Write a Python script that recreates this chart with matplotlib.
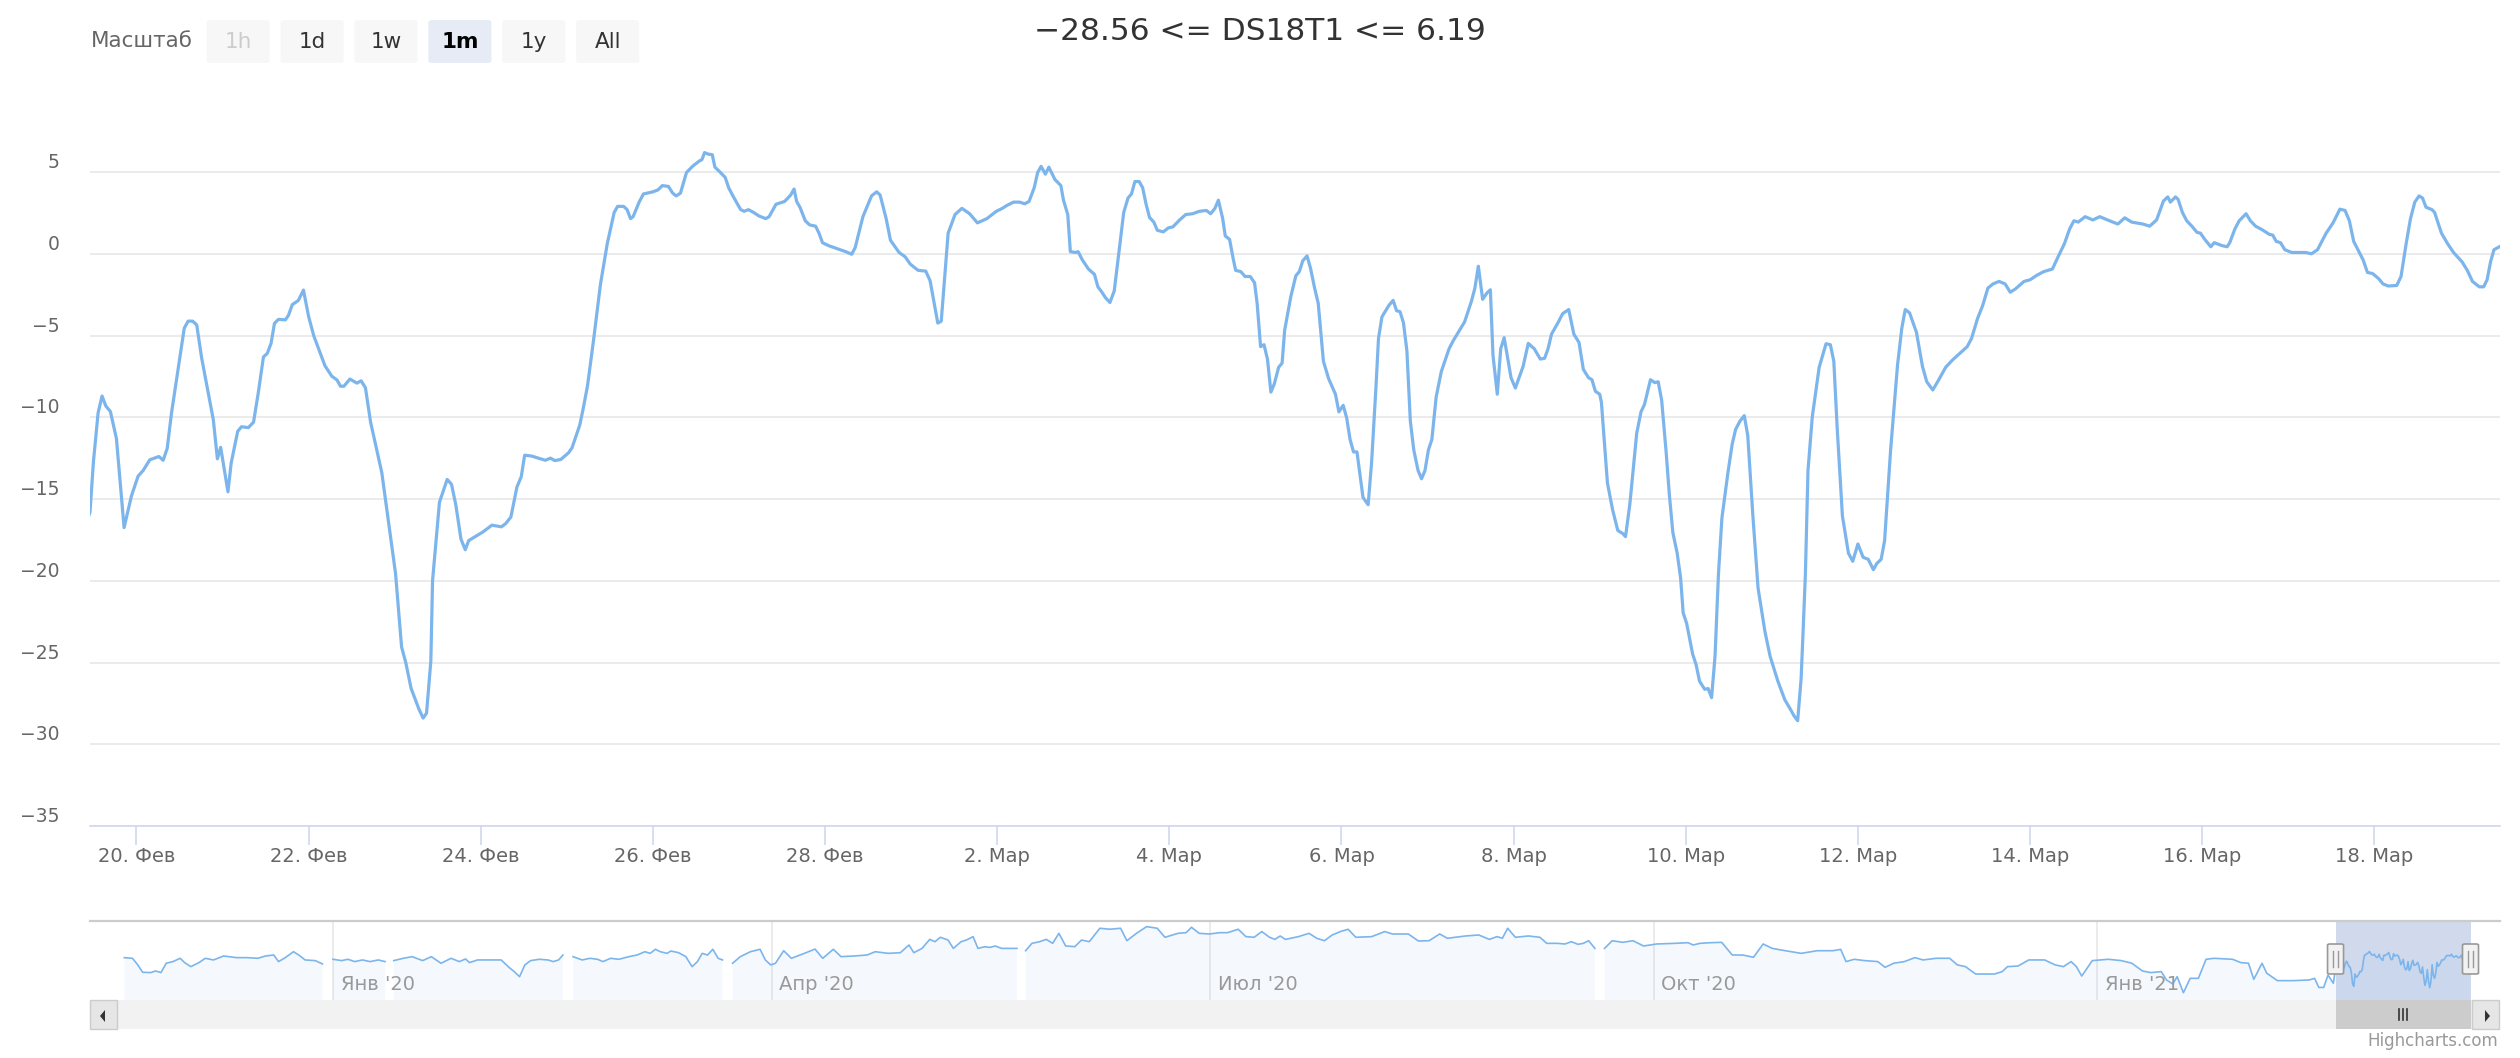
import matplotlib.pyplot as plt
import matplotlib.dates as mdates
import matplotlib.transforms as mtransforms
from matplotlib.patches import Rectangle, FancyBboxPatch, Polygon
from matplotlib.lines import Line2D
import numpy as np
import pandas as pd

plt.rcParams['font.family'] = ['DejaVu Sans']

# ---- data ----------------------------------------------------------------
title = "\u221228.56 <= DS18T1 <= 6.19"

# long history shown in the navigator: days since 2020-01-01 (nan = gap)
hist_days = [
    -43.3, -41.6, -40.5, -39.5, -37.8, -36.8, -35.7, -34.6, -33.2, -31.7, -30.8, -29.5, -27.8,
    -26.5, -24.8, -22.7, -20.0, -17.8, -15.6, -14.0, -12.3, -11.3, -9.9, -8.2, -6.9, -5.8,
    -3.7, -2.2, -1.1,
    0.0, 1.8, 3.1, 4.5, 6.1, 7.7, 9.4, 10.8, 11.7,
    12.6, 14.6, 16.4, 18.6, 20.4, 22.4, 24.5, 26.2, 27.5, 28.3, 30.0, 33.2, 34.9, 36.5, 37.6,
    38.7, 39.8, 41.0, 42.8, 44.6, 45.7, 46.8, 47.7, 48.7,
    49.8, 51.7, 53.3, 54.9, 56.0, 57.6, 59.3, 61.4, 63.1, 64.7, 65.8, 66.9, 67.9, 69.3, 70.1,
    71.7, 73.2, 74.5, 75.6, 76.6, 77.7, 78.8, 79.9, 80.8, 81.8,
    82.9, 84.5, 86.6, 88.6, 89.7, 90.8, 91.8, 93.5, 95.1, 97.8, 100.0, 101.6, 103.8, 105.4,
    108.1, 110.8, 112.5, 115.2, 117.7, 119.5, 120.5, 122.2, 123.8, 124.9, 126.0, 127.6, 128.7,
    130.3, 131.4, 132.8, 133.8, 135.2, 136.3, 137.4, 138.7, 141.9, 142.8,
    143.7, 145.0, 146.6, 148.0, 149.3, 150.6, 152.0, 153.9, 155.3, 156.9, 159.1, 161.2, 163.4,
    164.7, 166.7, 168.8, 171.0, 172.6, 175.3, 177.0, 178.1, 179.7, 181.8, 184.0, 185.6, 187.8,
    189.4, 191.1, 192.7, 194.3, 195.4, 196.5, 197.6, 200.3, 202.5, 204.1, 205.7, 207.3, 209.0,
    210.6, 212.2, 215.5, 218.2, 219.8, 223.1, 225.2, 227.4, 229.6, 231.2, 232.8, 235.0, 237.7,
    239.9, 241.5, 242.6, 243.7, 245.3, 248.0, 250.4, 251.8, 254.0, 255.6, 256.9, 258.3, 259.4,
    260.5, 261.8, 262.8,
    263.8, 265.4, 267.6, 269.7, 271.9, 274.6, 278.4, 281.1, 282.2, 283.6, 285.9, 288.1, 290.3,
    292.5, 294.7, 296.7, 298.6, 301.3, 304.6, 307.9, 311.2, 312.8, 313.9, 315.6, 317.8, 320.5,
    322.0, 323.8, 326.0, 328.2, 329.9, 332.6, 335.4, 337.0, 338.7, 340.8, 344.7, 346.3, 347.4,
    349.6, 351.8, 355.1, 357.3, 359.0, 360.6, 361.7, 362.8, 365.0, 368.3, 371.0, 373.2, 375.4,
    377.1, 379.3, 380.4, 381.7, 382.6, 383.9, 385.3, 387.0, 388.6, 390.3, 394.1, 395.8, 397.4,
    398.5, 400.2, 401.2, 403.4, 406.7, 410.0, 411.1, 412.0, 413.0, 413.9, 415.0,
]
nan = float('nan')
hist_vals = [
    0.2, -0.4, -6.4, -13.1, -13.4, -11.9, -13.4, -4.9, -3.4, -0.4, -4.3, -8.0, -4.3,
    -0.4, -1.9, 1.7, 0.2, 0.2, -0.4, 1.7, 2.6, -3.4, 0.2, 5.6, 2.0, -1.9,
    -2.5, -5.5, nan,
    -1.3, -2.5, -1.3, -3.4, -1.9, -3.4, -1.9, -3.4, nan,
    -2.5, -0.4, 1.1, -2.5, 1.1, -4.9, -0.4, -3.4, -1.0, -4.3, -1.9, -1.9, -1.9, -8.6, -12.5,
    -17.1, -6.4, -2.5, -1.3, -1.9, -3.4, -1.9, 2.6, nan,
    1.1, -1.9, -0.4, -1.3, -3.4, -0.4, -1.3, 1.1, 2.6, 5.6, 4.1, 7.8, 5.6, 4.1, 6.2,
    4.7, 1.1, -8.0, -3.4, 4.1, 2.6, 7.8, -0.4, -1.9, nan,
    -4.9, 1.1, 5.6, 7.8, -1.9, -6.4, -4.9, 6.5, -0.4, 4.1, 8.0, -0.4, 7.8, 1.1,
    1.7, 2.6, 5.6, 4.1, 4.7, 11.7, 4.7, 8.6, 16.8, 14.7, 18.7, 16.2, 8.6,
    14.7, 16.2, 19.3, 8.6, 10.1, 9.5, 10.8, 8.6, 8.6, nan,
    6.5, 13.2, 14.7, 16.8, 13.2, 22.3, 10.8, 10.2, 16.2, 14.7, 26.9, 26.0, 26.9,
    15.6, 22.3, 28.4, 26.9, 18.7, 22.3, 22.9, 27.8, 22.3, 21.7, 22.9, 22.9, 26.0,
    19.3, 18.7, 23.9, 18.7, 16.8, 19.9, 16.8, 19.3, 22.3, 17.8, 15.6, 20.8, 23.9,
    26.0, 18.7, 19.3, 23.9, 21.7, 21.7, 15.3, 15.6, 21.7, 17.8, 18.7, 19.9, 20.8,
    16.8, 19.3, 17.8, 26.9, 18.7, 19.9, 18.7, 13.2, 13.2, 12.6, 14.7, 12.3, 13.2,
    15.6, 8.6, nan,
    8.6, 15.6, 14.1, 15.6, 10.8, 12.6, 13.2, 13.8, 11.7, 13.2, 13.8, 14.1, 2.6,
    2.6, 0.5, 12.6, 8.6, 6.5, 4.1, 6.5, 6.5, 7.7, -3.4, -1.3, -2.5, -3.4,
    -8.6, -4.9, -3.4, 0.2, -1.9, -0.4, -0.4, -6.4, -8.0, -14.7, -14.7, -12.5, -8.0,
    -7.4, -1.9, -1.9, -6.4, -8.0, -3.4, -8.0, -16.5, -2.5, -1.3, -2.5, -4.9, -11.9,
    -13.4, -12.5, -20.1, -23.7, -17.1, -31.7, -18.6, -18.6, -1.3, -0.4, -1.3, -4.3, -4.9,
    -19.5, -4.9, -14.0, -20.7, -20.7, -20.1, -18.6, -26.9, -26.9, -15.6, -23.1,
]

# last month in detail: days since 2021-02-20
recent_days = [
    -0.54, -0.50, -0.446, -0.40, -0.357, -0.303, -0.233, -0.144, -0.058, 0.019, 0.078, 0.155,
    0.26, 0.31, 0.357, 0.407, 0.555, 0.60, 0.652, 0.70, 0.757, 0.893, 0.94, 0.978, 1.063, 1.10,
    1.176, 1.22, 1.30, 1.36, 1.416, 1.475, 1.52, 1.564, 1.603, 1.65, 1.73, 1.766, 1.81, 1.88,
    1.94, 2.0, 2.06, 2.19, 2.27, 2.33, 2.37, 2.41, 2.48, 2.56, 2.61, 2.66, 2.72, 2.85, 3.01,
    3.08, 3.13, 3.19, 3.28, 3.33, 3.37, 3.42, 3.44, 3.52, 3.61, 3.66, 3.71, 3.77, 3.82, 3.86,
    4.02, 4.13, 4.24, 4.29, 4.35, 4.42, 4.47, 4.51, 4.59, 4.75, 4.81, 4.86, 4.93, 5.02, 5.06,
    5.15, 5.19, 5.24, 5.31, 5.39, 5.47, 5.55, 5.59, 5.66, 5.70, 5.74, 5.77, 5.84, 5.89, 6.0,
    6.06, 6.11, 6.18, 6.23, 6.27, 6.32, 6.39, 6.46, 6.54, 6.57, 6.60, 6.64, 6.69, 6.72, 6.77,
    6.84, 6.88, 6.93, 6.97, 7.02, 7.06, 7.11, 7.17, 7.23, 7.31, 7.35, 7.43, 7.53, 7.60, 7.64,
    7.67, 7.71, 7.77, 7.82, 7.89, 7.93, 7.97, 8.04, 8.15, 8.24, 8.31, 8.35, 8.44, 8.54, 8.60,
    8.64, 8.71, 8.76, 8.82, 8.86, 8.93, 8.99, 9.08, 9.17, 9.22, 9.31, 9.35, 9.43, 9.51, 9.59,
    9.68, 9.77, 9.88, 9.99, 10.06, 10.11, 10.19, 10.26, 10.32, 10.37, 10.43, 10.47, 10.51,
    10.56, 10.60, 10.67, 10.74, 10.77, 10.82, 10.85, 10.91, 10.94, 10.99, 11.06, 11.13, 11.17,
    11.21, 11.26, 11.31, 11.36, 11.47, 11.52, 11.56, 11.60, 11.65, 11.69, 11.73, 11.77, 11.82,
    11.86, 11.93, 11.99, 12.04, 12.12, 12.19, 12.27, 12.35, 12.43, 12.48, 12.53, 12.57, 12.62,
    12.65, 12.70, 12.74, 12.77, 12.83, 12.88, 12.94, 12.99, 13.02, 13.06, 13.10, 13.14, 13.18,
    13.22, 13.27, 13.31, 13.34, 13.41, 13.47, 13.51, 13.55, 13.60, 13.64, 13.69, 13.73, 13.79,
    13.85, 13.93, 13.97, 14.02, 14.06, 14.10, 14.14, 14.18, 14.25, 14.31, 14.35, 14.40, 14.43,
    14.47, 14.55, 14.60, 14.64, 14.68, 14.72, 14.76, 14.80, 14.84, 14.89, 14.93, 14.97, 15.01,
    15.05, 15.10, 15.16, 15.25, 15.30, 15.35, 15.43, 15.51, 15.55, 15.59, 15.64, 15.69, 15.73,
    15.76, 15.81, 15.85, 15.89, 15.97, 16.02, 16.11, 16.17, 16.24, 16.31, 16.36, 16.40, 16.44,
    16.52, 16.57, 16.64, 16.70, 16.76, 16.81, 16.87, 16.91, 16.95, 17.00, 17.02, 17.06, 17.09,
    17.15, 17.21, 17.27, 17.30, 17.35, 17.43, 17.48, 17.52, 17.59, 17.64, 17.68, 17.72, 17.77,
    17.81, 17.85, 17.90, 17.94, 17.97, 18.01, 18.08, 18.12, 18.16, 18.22, 18.26, 18.30, 18.34,
    18.38, 18.42, 18.49, 18.54, 18.58, 18.63, 18.68, 18.72, 18.78, 18.84, 18.92, 18.98, 19.07,
    19.15, 19.22, 19.26, 19.30, 19.34, 19.36, 19.39, 19.42, 19.47, 19.55, 19.63, 19.68, 19.72,
    19.76, 19.82, 19.89, 19.94, 20.00, 20.06, 20.12, 20.18, 20.22, 20.27, 20.31, 20.38, 20.46,
    20.51, 20.55, 20.60, 20.68, 20.75, 20.80, 20.87, 20.94, 21.02, 21.10, 21.19, 21.27, 21.32,
    21.39, 21.45, 21.51, 21.57, 21.64, 21.71, 21.77, 21.83, 21.93, 22.00, 22.08, 22.16, 22.26,
    22.32, 22.40, 22.46, 22.51, 22.56, 22.64, 22.73, 22.81, 22.90, 23.02, 23.10, 23.18, 23.31,
    23.39, 23.47, 23.55, 23.60, 23.63, 23.69, 23.72, 23.77, 23.82, 23.88, 23.94, 23.98, 24.03,
    24.10, 24.14, 24.23, 24.29, 24.32, 24.38, 24.43, 24.51, 24.56, 24.62, 24.70, 24.78, 24.82,
    24.86, 24.91, 24.96, 25.04, 25.20, 25.27, 25.34, 25.39, 25.44, 25.52, 25.60, 25.66, 25.71,
    25.76, 25.87, 25.92, 25.98, 26.05, 26.10, 26.16, 26.26, 26.31, 26.37, 26.42, 26.47, 26.52,
    26.56, 26.60, 26.67, 26.70, 26.78, 26.85, 26.92, 27.02, 27.08, 27.14, 27.22, 27.27, 27.31,
    27.35, 27.39, 27.46,
]
recent_vals = [
    -15.8, -12.7, -9.74, -8.7, -9.3, -9.65, -11.3, -16.75, -14.8, -13.6, -13.25, -12.6,
    -12.4, -12.63, -11.9, -9.74, -4.55, -4.12, -4.12, -4.35, -6.37, -10.16, -12.54, -11.84, -14.56, -12.8,
    -10.86, -10.58, -10.63, -10.3, -8.47, -6.31, -6.09, -5.47, -4.26, -4.01, -4.04, -3.76, -3.11, -2.86,
    -2.22, -3.84, -5.02, -6.85, -7.49, -7.72, -8.1, -8.1, -7.66, -7.91, -7.77, -8.19, -10.3, -13.38, -19.56,
    -24.05, -25.03, -26.57, -27.83, -28.4, -28.1, -24.9, -19.98, -15.2, -13.8, -14.1, -15.35, -17.45, -18.1, -17.54,
    -17.03, -16.6, -16.7, -16.5, -16.1, -14.27, -13.64, -12.32, -12.37, -12.63, -12.5, -12.65, -12.58, -12.17, -11.87,
    -10.48, -9.47, -8.08, -5.3, -1.89, 0.63, 2.53, 2.9, 2.9, 2.7, 2.15, 2.27, 3.16, 3.66, 3.79,
    3.91, 4.17, 4.12, 3.71, 3.54, 3.71, 4.97, 5.35, 5.68, 5.76, 6.19, 6.1, 6.06, 5.3, 5.05,
    4.67, 4.04, 3.54, 3.16, 2.7, 2.6, 2.7, 2.53, 2.32, 2.15, 2.27, 3.03, 3.2, 3.59, 3.96,
    3.2, 2.83, 2.02, 1.77, 1.69, 1.26, 0.68, 0.5, 0.3, 0.13, -0.03, 0.38, 2.27, 3.54, 3.79,
    3.59, 2.15, 0.83, 0.38, 0.08, -0.18, -0.63, -1.01, -1.06, -1.64, -4.24, -4.12, 1.26, 2.4, 2.78,
    2.45, 1.89, 2.15, 2.6, 2.78, 2.95, 3.16, 3.16, 3.06, 3.2, 4.04, 4.97, 5.35,
    4.87, 5.3, 4.55, 4.17, 3.28, 2.4, 0.13, 0.08, 0.13, -0.38, -0.93, -1.26, -2.02,
    -2.3, -2.7, -2.98, -2.27, 2.53, 3.41, 3.66, 4.42, 4.42, 4.04, 3.03, 2.22, 1.94,
    1.44, 1.34, 1.59, 1.64, 2.07, 2.4, 2.45, 2.6, 2.65, 2.45, 2.78, 3.28, 2.15,
    1.09, 0.88, -0.25, -1.01, -1.09, -1.39, -1.39, -1.77, -3.03, -5.68, -5.56, -6.44, -8.46,
    -7.95, -6.94, -6.69, -4.67, -2.65, -1.34, -1.09, -0.43, -0.13, -0.88, -2.15, -3.03, -6.57,
    -7.63, -8.59, -9.67, -9.27, -10.03, -11.36, -12.12, -12.12, -14.9, -15.35, -12.75, -8.21, -5.18,
    -3.86, -3.16, -2.85, -3.48, -3.54, -4.22, -5.93, -10.23, -12.0, -13.26, -13.76, -13.26, -12.0,
    -11.36, -8.76, -7.2, -5.81, -5.3, -4.87, -4.17, -2.9, -2.1, -0.76, -2.78, -2.4, -2.2,
    -6.19, -8.59, -5.81, -5.13, -7.58, -8.21, -6.89, -5.48, -5.81, -6.44, -6.39, -5.81, -4.92,
    -4.17, -3.66, -3.41, -4.92, -5.43, -7.07, -7.58, -7.7, -8.41, -8.59, -9.09, -11.87, -14.02,
    -15.66, -16.92, -17.12, -17.3, -15.33, -10.98, -9.67, -9.22, -7.7, -7.88, -7.83, -8.96, -12.0,
    -14.77, -17.05, -18.31, -19.82, -21.97, -22.6, -24.49, -25.13, -26.14, -26.64, -26.59, -27.15, -24.62,
    -19.57, -16.16, -13.38, -11.62, -10.73, -10.23, -9.9, -11.11, -16.04, -20.45, -23.11, -24.62, -26.14,
    -27.27, -27.9, -28.28, -28.56, -26.0, -23.5, -19.57, -13.26, -9.97, -6.94, -5.5, -5.56, -6.57,
    -10.73, -16.04, -18.31, -18.81, -17.75, -18.56, -18.69, -19.32, -18.94, -18.69, -17.55, -12.0, -6.82,
    -4.55, -3.41, -3.61, -4.8, -6.89, -7.83, -8.33, -7.7, -6.94, -6.49, -6.06, -5.68, -5.18,
    -3.96, -3.16, -2.1, -1.84, -1.69, -1.84, -2.35, -2.15, -1.69, -1.59, -1.31, -1.09, -0.93,
    -0.25, 0.63, 1.52, 2.02, 1.94, 2.27, 2.07, 2.27, 2.07, 1.82, 2.2, 1.94, 1.82,
    1.69, 2.07, 3.23, 3.48, 3.16, 3.48, 3.33, 2.53, 2.02, 1.69, 1.31, 1.26, 0.88,
    0.43, 0.68, 0.5, 0.43, 0.68, 1.52, 2.02, 2.45, 2.02, 1.69, 1.46, 1.19, 1.14,
    0.76, 0.68, 0.25, 0.08, 0.08, 0.0, 0.25, 0.76, 1.26, 1.89, 2.73, 2.65, 2.02,
    0.76, -0.38, -1.14, -1.21, -1.52, -1.84, -1.97, -1.94, -1.39, 0.63, 2.15, 3.16, 3.54,
    3.41, 2.85, 2.7, 2.53, 1.26, 0.63, 0.08, -0.5, -1.01, -1.69, -2.02, -2.02, -1.59,
    -0.5, 0.25, 0.45,
]

y_ticks = [-35, -30, -25, -20, -15, -10, -5, 0, 5]
x_tick_dates = ['2021-02-20', '2021-02-22', '2021-02-24', '2021-02-26', '2021-02-28', '2021-03-02',
                '2021-03-04', '2021-03-06', '2021-03-08', '2021-03-10', '2021-03-12', '2021-03-14',
                '2021-03-16', '2021-03-18']
x_tick_labels = ['20. Фев', '22. Фев', '24. Фев', '26. Фев', '28. Фев', '2. Мар', '4. Мар',
                 '6. Мар', '8. Мар', '10. Мар', '12. Мар', '14. Мар', '16. Мар', '18. Мар']
nav_tick_dates = ['2020-01-01', '2020-04-01', '2020-07-01', '2020-10-01', '2021-01-01']
nav_tick_labels = ["Янв '20", "Апр '20", "Июл '20", "Окт '20", "Янв '21"]
nav_start = pd.Timestamp('2019-11-11 14:00')

buttons = ['1h', '1d', '1w', '1m', '1y', 'All']
selected_button = '1m'
disabled_buttons = ['1h']

# ---- series ---------------------------------------------------------------
hist = pd.Series(hist_vals, index=pd.Timestamp('2020-01-01') + pd.to_timedelta(hist_days, unit='D'))
recent = pd.Series(recent_vals,
                   index=pd.Timestamp('2021-02-20') + pd.to_timedelta(recent_days, unit='D'))
full = pd.concat([hist, recent])
times = full.index.values
vals = full.values.astype(float)
view_end = recent.index[-1]
view_start = view_end - pd.DateOffset(months=1)

# navigator groups the dense recent data (like highstock's data grouping)
nav_series = pd.concat([hist, recent.resample('6h').mean()])
nav_times = nav_series.index.values
nav_vals = nav_series.values.astype(float)

W, H = 2520, 1058
fig = plt.figure(figsize=(W / 100, H / 100), dpi=100)


def fx(px):
    return px / W


def fy(py):
    return 1 - py / H


line_col = '#7cb5ec'

# ---- main chart -------------------------------------------------------------
ax = fig.add_axes([fx(90), fy(826), fx(2500) - fx(90), fy(123) - fy(826)])
ax.plot(times, vals, color=line_col, lw=2.3, solid_joinstyle='round', zorder=3)
ax.set_xlim(view_start, view_end)
ax.set_ylim(-35, 8)
ax.set_yticks(y_ticks)
ax.yaxis.grid(True, color='#e6e6e6', lw=1.15)
ax.set_axisbelow(True)
for s in ['top', 'right', 'left']:
    ax.spines[s].set_visible(False)
ax.spines['bottom'].set_color('#ccd6eb')
ax.spines['bottom'].set_linewidth(1.15)
ax.spines['bottom'].set_zorder(4)
ax.set_xticks(pd.to_datetime(x_tick_dates))
ax.set_xticklabels(x_tick_labels)
ax.tick_params(axis='x', direction='out', length=13.5, width=1.15, color='#ccd6eb',
               labelsize=14, labelcolor='#666666', pad=1.5)
ax.tick_params(axis='y', length=0, labelsize=13.5, labelcolor='#666666', pad=22)
shift = mtransforms.ScaledTranslation(0, 11.5 / 100, fig.dpi_scale_trans)
for lbl in ax.get_yticklabels():
    lbl.set_transform(lbl.get_transform() + shift)

fig.text(0.5, fy(32), title, ha='center', va='center', fontsize=22.5, color='#333333')

# ---- range selector -------------------------------------------------------
fig.text(fx(91), fy(41), 'Масштаб', ha='left', va='center', fontsize=15.5, color='#666666')
for i, b in enumerate(buttons):
    x0 = 206.7 + i * 73.9
    face = '#e6ebf5' if b == selected_button else '#f7f7f7'
    fig.patches.append(FancyBboxPatch((fx(x0), fy(63)), fx(63), fy(20) - fy(63),
                                      boxstyle='round,pad=0,rounding_size=0.002',
                                      transform=fig.transFigure, fc=face, ec='none'))
    col = '#cccccc' if b in disabled_buttons else ('#000000' if b == selected_button else '#333333')
    fig.text(fx(x0 + 31.5), fy(42), b, ha='center', va='center', fontsize=15.5, color=col,
             fontweight='bold' if b == selected_button else 'normal')

# ---- navigator ----------------------------------------------------------------
nav = fig.add_axes([fx(90), fy(1000), fx(2470.5) - fx(90), fy(921) - fy(1000)])
nav.set_xlim(nav_start, view_end)
nav.set_ylim(-38.3, 33.5)
nav.set_axis_off()
nav.axvspan(view_start, view_end, color='#6685c2', alpha=0.3, lw=0, zorder=0.5)
nav.fill_between(nav_times, nav_vals, -38.3, color=line_col, alpha=0.07, lw=0, zorder=1)
nav.plot(nav_times, nav_vals, color=line_col, lw=1.2, zorder=2)
lab_tr = mtransforms.blended_transform_factory(nav.transData, fig.transFigure) + \
    mtransforms.ScaledTranslation(7.5 / 100, 0, fig.dpi_scale_trans)
for d, lab in zip(pd.to_datetime(nav_tick_dates), nav_tick_labels):
    nav.axvline(d, color='#e6e6e6', lw=1.15, zorder=0.4)
    nav.text(mdates.date2num(d), fy(985), lab, transform=lab_tr, ha='left', va='center',
             fontsize=14, color='#999999', zorder=3)

fig.add_artist(Line2D([fx(90), fx(2500)], [fy(921), fy(921)], color='#cccccc', lw=1.6))


def nav_px(t):
    return nav.transData.transform((mdates.date2num(t), 0))[0]


x_a, x_b = nav_px(view_start), nav_px(view_end)

# scrollbar
fig.patches.append(Rectangle((fx(90), fy(1029)), fx(2410), fy(1000) - fy(1029),
                             transform=fig.transFigure, fc='#f2f2f2', ec='none'))
for bx in (90, 2472):
    fig.patches.append(Rectangle((fx(bx), fy(1029)), fx(27), fy(1000) - fy(1029),
                                 transform=fig.transFigure, fc='#e6e6e6', ec='#cccccc', lw=1))
fig.patches.append(Polygon([(fx(100), fy(1016)), (fx(105), fy(1010)), (fx(105), fy(1022))],
                           transform=fig.transFigure, fc='#333333', ec='none'))
fig.patches.append(Polygon([(fx(2490), fy(1016)), (fx(2485), fy(1010)), (fx(2485), fy(1022))],
                           transform=fig.transFigure, fc='#333333', ec='none'))
fig.patches.append(Rectangle((fx(x_a), fy(1029)), fx(x_b - x_a), fy(1000) - fy(1029),
                             transform=fig.transFigure, fc='#cccccc', ec='none'))
xc = (x_a + x_b) / 2
for dx in (-4, 0, 4):
    fig.add_artist(Line2D([fx(xc + dx)] * 2, [fy(1009), fy(1020)], color='#333333', lw=1.2))

# navigator handles
for hx in (x_a, x_b):
    fig.patches.append(FancyBboxPatch((fx(hx - 8), fy(974)), fx(16), fy(944) - fy(974),
                                      boxstyle='round,pad=0,rounding_size=0.001',
                                      transform=fig.transFigure, fc='#f2f2f2', ec='#999999',
                                      lw=1.2, zorder=5))
    for dx in (-2.5, 2.5):
        fig.add_artist(Line2D([fx(hx + dx)] * 2, [fy(951), fy(967)], color='#999999', lw=1.0,
                              zorder=6))

fig.text(fx(2498), fy(1041), 'Highcharts.com', ha='right', va='center', fontsize=12,
         color='#999999')

fig.savefig('out.png', dpi=100)
